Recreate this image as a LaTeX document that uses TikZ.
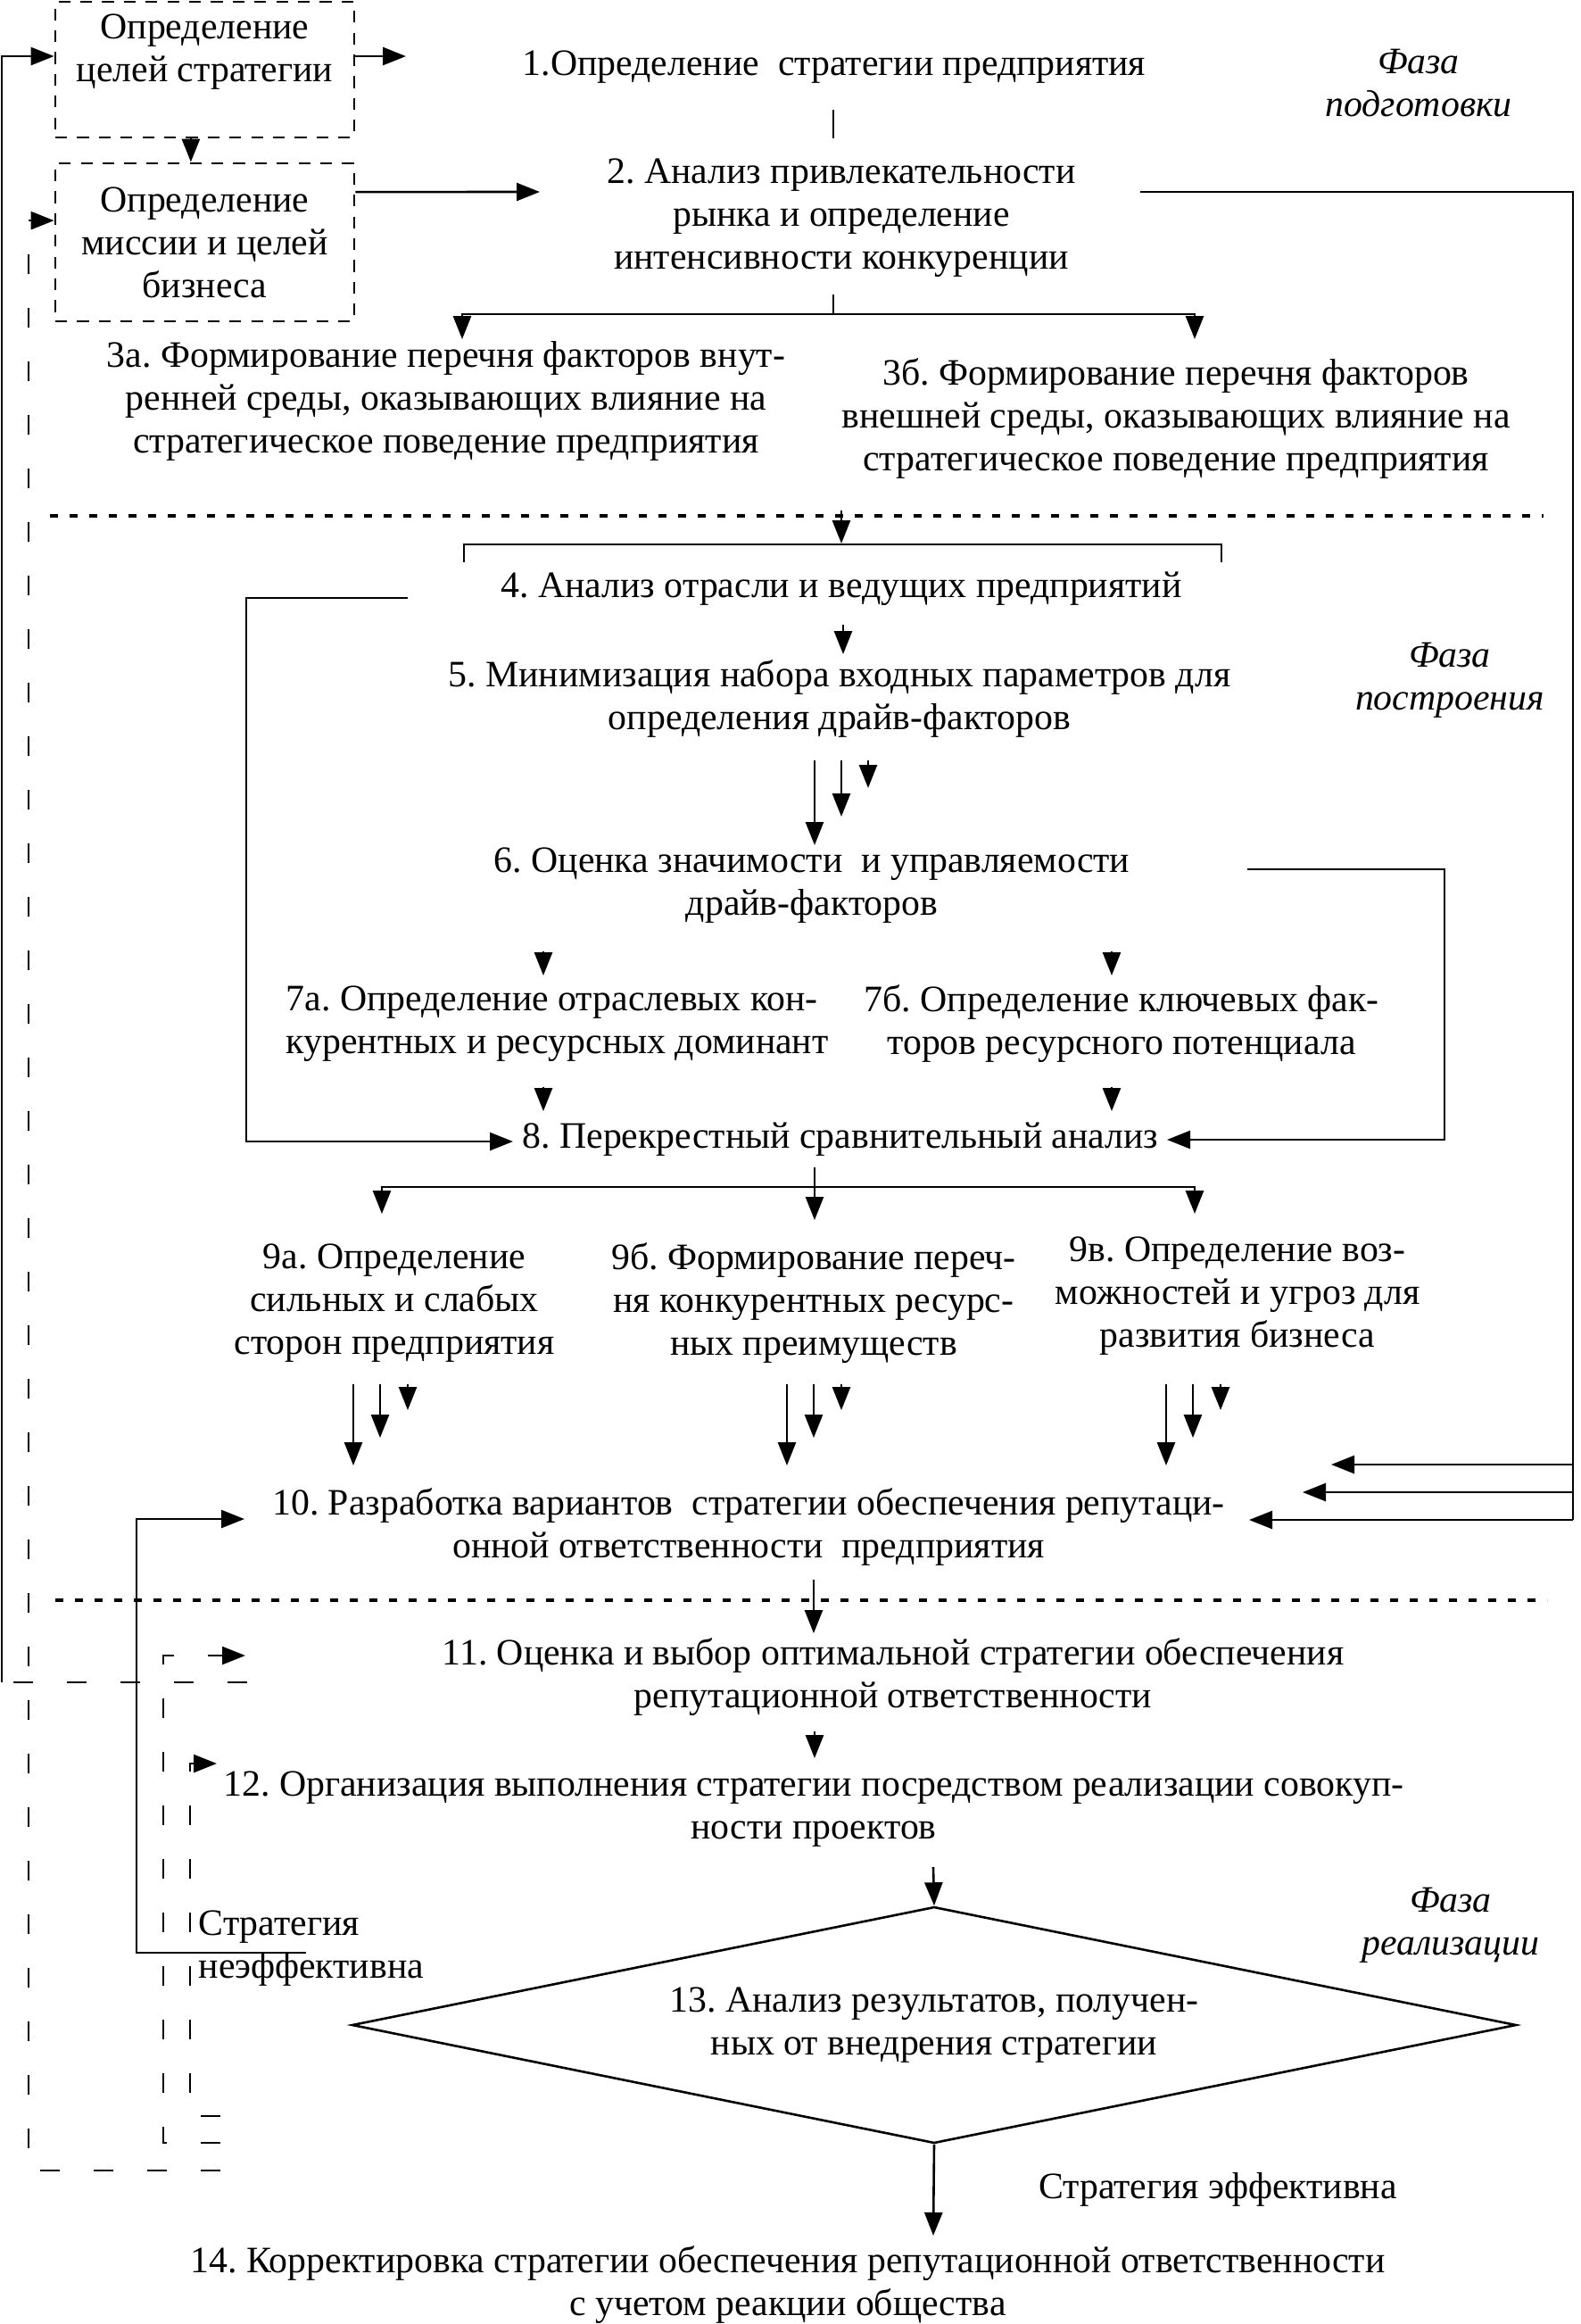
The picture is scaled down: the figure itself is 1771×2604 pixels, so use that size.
\documentclass[tikz,border=0pt]{standalone}
\usepackage{fontspec}
\setmainfont{Liberation Serif}
\usetikzlibrary{arrows.meta, shapes.geometric}

\newcommand{\diagfont}{\fontsize{10.45}{12}\selectfont}
\frenchspacing

\tikzset{
    txt/.style={inner sep=0pt, align=center, font=\diagfont},
    phase/.style={inner sep=0pt, align=center, font=\diagfont\itshape},
    dbox/.style={draw, dash pattern=on 3.3pt off 2.8pt, line width=0.7pt, minimum width=83.75pt, inner sep=0pt, align=center, font=\diagfont},
    line/.style={line width=0.65pt},
    arr/.style={line width=0.65pt, -{Triangle[length=6.5pt,width=5pt]}},
    fb/.style={line width=0.7pt, dash pattern=on 5.5pt off 9.5pt},
    phasesep/.style={line width=0.8pt, dash pattern=on 2.2pt off 3.3pt},
}

\begin{document}
\begin{tikzpicture}[x=0.25pt,y=0.25pt,yscale=-1]
    \useasboundingbox (0,0) rectangle (1771,2604);

    %Shape: dashed boxes
    \node[dbox, minimum height=38pt] (g1) at (229.5,78) {Определение\\целей стратегии\\~};
    \node[dbox, minimum height=44.25pt] (g2) at (229.5,271.5) {Определение\\миссии и целей\\бизнеса};

    % Text Node
    \node[txt] (s1) at (935,75) {1.Определение\ \ стратегии предприятия};
    % Text Node
    \node[txt] (s2) at (943,244) {2. Анализ привлекательности\\рынка и определение\\интенсивности конкуренции};
    % Text Node
    \node[txt] (s3a) at (500,449) {3а. Формирование перечня факторов внут-\\ренней среды, оказывающих влияние на\\стратегическое поведение предприятия};
    % Text Node
    \node[txt] (s3b) at (1318,469) {3б. Формирование перечня факторов\\внешней среды, оказывающих влияние на\\стратегическое поведение предприятия};
    % Text Node
    \node[txt] (s4) at (943,660) {4. Анализ отрасли и ведущих предприятий};
    % Text Node
    \node[txt] (s5) at (941,783) {5. Минимизация набора входных параметров для\\определения драйв-факторов};
    % Text Node
    \node[txt] (s6) at (910,992) {6. Оценка значимости\ \ и управляемости\\драйв-факторов};
    % Text Node
    \node[txt, align=left, anchor=west] (s7a) at (320,1147) {7а. Определение отраслевых кон-\\курентных и ресурсных доминант};
    % Text Node
    \node[txt] (s7b) at (1257,1147) {7б. Определение ключевых фак-\\торов ресурсного потенциала};
    % Text Node
    \node[txt] (s8) at (942,1277) {8. Перекрестный сравнительный анализ};
    % Text Node
    \node[txt] (s9a) at (442,1460) {9а. Определение\\сильных и слабых\\сторон предприятия};
    % Text Node
    \node[txt] (s9b) at (912,1460) {9б. Формирование переч-\\ня конкурентных ресурс-\\ных преимуществ};
    % Text Node
    \node[txt] (s9c) at (1387,1452) {9в. Определение воз-\\можностей и угроз для\\развития бизнеса};
    % Text Node
    \node[txt] (s10) at (839,1711) {10. Разработка вариантов\ \ стратегии обеспечения репутаци-\\онной ответственности\ \ предприятия};
    % Text Node
    \node[txt] (s11) at (1001,1879) {11. Оценка и выбор оптимальной стратегии обеспечения\\репутационной ответственности};
    % Text Node
    \node[txt] (s12) at (912,2027) {12. Организация выполнения стратегии посредством реализации совокуп-\\ности проектов};
    %Shape: Diamond
    \node[draw, line width=0.65pt, diamond, aspect=4.92, inner sep=0pt, minimum width=326.25pt, minimum height=66.25pt, align=center, font=\diagfont] (s13) at (1047,2269) {13. Анализ результатов, получен-\\ных от внедрения стратегии};
    % Text Node
    \node[txt] (s14) at (883,2560) {14. Корректировка стратегии обеспечения репутационной ответственности\\с учетом реакции общества};
    % Text Node
    \node[txt, align=left, anchor=west] (bad) at (222,2183) {Стратегия\\неэффективна};
    % Text Node
    \node[txt] (good) at (1365,2453) {Стратегия эффективна};

    % Text Node
    \node[phase] (ph1) at (1590,93) {Фаза\\подготовки};
    % Text Node
    \node[phase] (ph2) at (1625,762) {Фаза\\построения};
    % Text Node
    \node[phase] (ph3) at (1626,2157) {Фаза\\реализации};

    %Shape: phase separators
    \coordinate (sa1) at (56,578);
    \coordinate (sa2) at (1730,578);
    \coordinate (sb1) at (62,1793);
    \coordinate (sb2) at (1734,1793);
    \draw[phasesep] (sa1) -- (sa2);
    \draw[phasesep] (sb1) -- (sb2);

    % free ends of the connectors
    \coordinate (t1) at (455,63);
    \coordinate (t2) at (605,215);
    \coordinate (k1) at (934,123);
    \coordinate (k2) at (934,155);
    \coordinate (f2) at (934,330);
    \coordinate (f2m) at (934,352);
    \coordinate (d3a) at (518,380);
    \coordinate (d3b) at (1339,380);
    \coordinate (r0) at (1278,215);
    \coordinate (rb) at (1763,1703);
    \coordinate (h10a) at (1492,1641);
    \coordinate (h10b) at (1460,1672);
    \coordinate (h10c) at (1400,1703);
    \coordinate (a4a) at (943,572);
    \coordinate (a4b) at (943,609);
    \coordinate (b4l) at (520,630);
    \coordinate (b4m) at (520,610);
    \coordinate (b4r) at (1369,630);
    \coordinate (l4a) at (457,670);
    \coordinate (l4b) at (276,670);
    \coordinate (l4c) at (575,1279);
    \coordinate (a5a) at (945,700);
    \coordinate (a5b) at (945,733);
    \coordinate (l6a) at (1398,974);
    \coordinate (l6b) at (1619,974);
    \coordinate (l6c) at (1308,1277);
    \coordinate (f8) at (913,1308);
    \coordinate (f8m) at (913,1330);
    \coordinate (d9a) at (428,1360);
    \coordinate (d9b) at (913,1367);
    \coordinate (d9c) at (1339,1360);
    \coordinate (a11a) at (912,1770);
    \coordinate (a11b) at (912,1830);
    \coordinate (a12a) at (913,1940);
    \coordinate (a12b) at (913,1970);
    \coordinate (a13) at (1046,2092);
    \coordinate (a14) at (1046,2505);

    % preparation phase
    \draw[arr] ([yshift=-3.75pt]g1.east) -- (t1);
    \draw[arr] ([xshift=-3.9pt]g1.south) -- ([xshift=-3.9pt]g2.north);
    \draw[arr] ([yshift=-14.1pt]g2.east) -- (t2);
    \draw[line] (k1) -- (k2);
    \draw[line] (f2) -- (f2m);
    \draw[arr] (f2m) -| (d3a);
    \draw[arr] (f2m) -| (d3b);
    \draw[line] (r0) -| (rb);
    \draw[arr] (rb |- h10a) -- (h10a);
    \draw[arr] (rb |- h10b) -- (h10b);
    \draw[arr] (rb) -- (h10c);

    % building phase
    \draw[arr] (a4a) -- (a4b);
    \draw[line] (b4l) -- (b4m) -| (b4r);
    \draw[arr] (l4a) -- (l4b) |- (l4c);
    \draw[arr] (a5a) -- (a5b);
    \foreach \dx/\tip in {913/947, 943/915, 973/883}
        \draw[arr] (\dx,852) -- (\dx,\tip);
    \draw[arr] (l6a) -- (l6b) |- (l6c);
    \foreach \dx in {609, 1246} {
        \draw[arr] (\dx,1066) -- (\dx,1093);
        \draw[arr] (\dx,1218) -- (\dx,1245);
    }
    \draw[line] (f8) -- (f8m);
    \draw[arr] (f8m) -| (d9a);
    \draw[arr] (f8m) -- (d9b);
    \draw[arr] (f8m) -| (d9c);
    \foreach \dx in {396, 882, 1307}
        \foreach \ddx/\tip in {0/1642, 30/1611, 61/1580}
            \draw[arr] (\dx+\ddx,1551) -- (\dx+\ddx,\tip);

    % realisation phase
    \draw[arr] (a11a) -- (a11b);
    \draw[arr] (a12a) -- (a12b);
    \draw[arr] (a13) -- (s13.north);
    \draw[arr] (s13.south) -- (a14);

    % feedback loops on the left
    \coordinate (fbA) at (277,1885);
    \coordinate (fbA0) at (2,1885);
    \draw[fb] (fbA) -- (fbA0);
    \draw[arr] (fbA0) |- ([yshift=-3.75pt]g1.west);

    \coordinate (fbB) at (247,2432);
    \coordinate (fbBx) at (32,2432);
    \draw[fb, arr] (fbB) -- (fbBx) |- ([yshift=-6.1pt]g2.west);

    \coordinate (fbC) at (247,2401);
    \coordinate (fbCx) at (183,2401);
    \coordinate (fbCt) at (275,1855);
    \draw[fb, arr] (fbC) -- (fbCx) |- (fbCt);

    \coordinate (fbD) at (247,2371);
    \coordinate (fbDx) at (213,2371);
    \coordinate (fbDt) at (243,1976);
    \draw[fb, arr] (fbD) -- (fbDx) |- (fbDt);

    \coordinate (fbE) at (343,2188);
    \coordinate (fbEx) at (153,2188);
    \coordinate (fbEt) at (274,1702);
    \draw[arr] (fbE) -- (fbEx) |- (fbEt);
\end{tikzpicture}
\end{document}
